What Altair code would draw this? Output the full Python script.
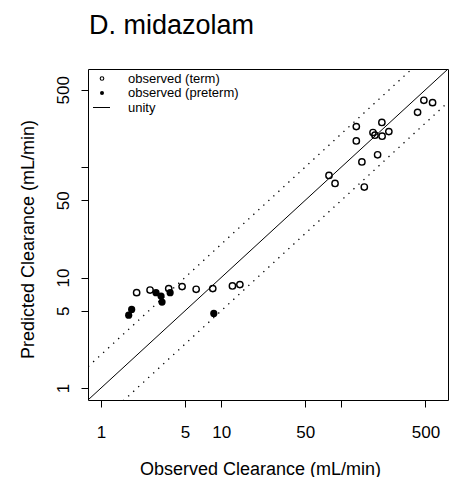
import altair as alt
import pandas as pd

# ---- data ----
term_x = [1.98, 2.56, 3.66, 4.73, 6.19, 8.51, 12.4, 14.3, 78.8, 88.5, 133, 133,
          148, 155, 183, 190, 200, 217, 218, 248, 430, 485, 573]
term_y = [7.3, 7.7, 7.94, 8.28, 7.83, 7.94, 8.39, 8.63, 83.9, 71, 232, 172,
          111, 65.8, 205, 194, 129, 253, 190, 209, 312, 401, 382]
preterm_x = [1.70, 1.80, 2.87, 3.16, 3.22, 3.76, 8.68]
preterm_y = [4.57, 5.15, 7.3, 6.8, 6.0, 7.3, 4.73]
ref_x = [0.3, 2000]
fold = 2
legend_labels = ["observed (term)", "observed (preterm)", "unity"]
tick_values = [1, 5, 10, 50, 100, 500]
axis_domain = [0.78, 770]
title_text = "D. midazolam"
x_title = "Observed Clearance (mL/min)"
y_title = "Predicted Clearance (mL/min)"

FONT = "Liberation Sans"

term_df = pd.DataFrame({"obs": term_x, "pred": term_y})
pre_df = pd.DataFrame({"obs": preterm_x, "pred": preterm_y})
ref_df = pd.DataFrame({
    "obs": ref_x,
    "unity": ref_x,
    "upper": [v * fold for v in ref_x],
    "lower": [v / fold for v in ref_x],
})


def xenc():
    return alt.X(
        "obs:Q",
        scale=alt.Scale(type="log", domain=axis_domain, nice=False),
        title=x_title,
        axis=alt.Axis(
            values=tick_values,
            labelExpr="datum.value == 100 ? '' : format(datum.value, 'd')",
            labelBaseline="alphabetic",
            labelAlign="center",
            labelPadding=30,
            labelFlush=False,
            labelOverlap=False,
            titleX=172,
            titleY=74,
            titleBaseline="alphabetic",
            titleAlign="center",
        ),
    )


def yenc(field):
    return alt.Y(
        f"{field}:Q",
        scale=alt.Scale(type="log", domain=axis_domain, nice=False),
        title=y_title,
        axis=alt.Axis(
            values=tick_values,
            labelExpr="datum.value == 100 ? '' : format(datum.value, 'd')",
            labelAngle=270,
            labelAlign="center",
            labelBaseline="alphabetic",
            labelPadding=13,
            labelFlush=False,
            labelOverlap=False,
            titleAngle=270,
            titleX=-55,
            titleY=170,
            titleBaseline="alphabetic",
            titleAlign="center",
        ),
    )


base_ref = alt.Chart(ref_df)
unity = base_ref.mark_line(clip=True, color="black", strokeWidth=1).encode(x=xenc(), y=yenc("unity"))
upper = base_ref.mark_line(clip=True, color="black", strokeWidth=1.3,
                           strokeDash=[1.3, 5.5]).encode(x=xenc(), y=yenc("upper"))
lower = base_ref.mark_line(clip=True, color="black", strokeWidth=1.3,
                           strokeDash=[1.3, 5.5]).encode(x=xenc(), y=yenc("lower"))

term_pts = alt.Chart(term_df).mark_point(
    shape="circle", filled=False, color="black", size=40, strokeWidth=1.4, opacity=1
).encode(x=xenc(), y=yenc("pred"))
pre_pts = alt.Chart(pre_df).mark_point(
    shape="circle", filled=True, color="black", size=52, opacity=1
).encode(x=xenc(), y=yenc("pred"))

# ---- legend (inside top-left of plot) ----
leg_df = pd.DataFrame({"label": legend_labels})
leg_rows = [9.5, 24, 38.5]
leg_open = alt.Chart(leg_df.iloc[[0]]).mark_point(
    shape="circle", filled=False, color="black", size=13, strokeWidth=1.1, opacity=1
).encode(x=alt.value(14), y=alt.value(leg_rows[0]))
leg_fill = alt.Chart(leg_df.iloc[[1]]).mark_point(
    shape="circle", filled=True, color="black", size=16, opacity=1
).encode(x=alt.value(14), y=alt.value(leg_rows[1]))
leg_line = alt.Chart(leg_df.iloc[[2]]).mark_rule(color="black", strokeWidth=1).encode(
    x=alt.value(5), x2=alt.value(22), y=alt.value(leg_rows[2])
)
leg_texts = [
    alt.Chart(leg_df.iloc[[i]]).mark_text(
        align="left", baseline="middle", font=FONT, fontSize=13, color="black"
    ).encode(x=alt.value(40), y=alt.value(leg_rows[i]), text="label:N")
    for i in range(3)
]

title_mark = alt.Chart(pd.DataFrame({"t": [title_text]})).mark_text(
    align="left", baseline="alphabetic", font=FONT, fontSize=27, color="black"
).encode(x=alt.value(1), y=alt.value(-35), text="t:N")

chart = alt.layer(
    unity, upper, lower, term_pts, pre_pts,
    leg_open, leg_fill, leg_line, *leg_texts, title_mark
).properties(
    width=360,
    height=331,
    autosize=alt.AutoSizeParams(type="none"),
    padding={"left": 88, "top": 69, "right": 2, "bottom": 77},
).configure_view(
    stroke="black", strokeWidth=1
).configure_axis(
    domain=False,
    grid=False,
    ticks=True,
    tickSize=7,
    tickColor="black",
    tickWidth=1,
    labelFont=FONT,
    labelFontSize=17,
    labelColor="black",
    titleFont=FONT,
    titleFontSize=18,
    titleFontWeight="normal",
    titleColor="black",
)

chart.save("out.html", embed_options={"renderer": "svg", "actions": False})
